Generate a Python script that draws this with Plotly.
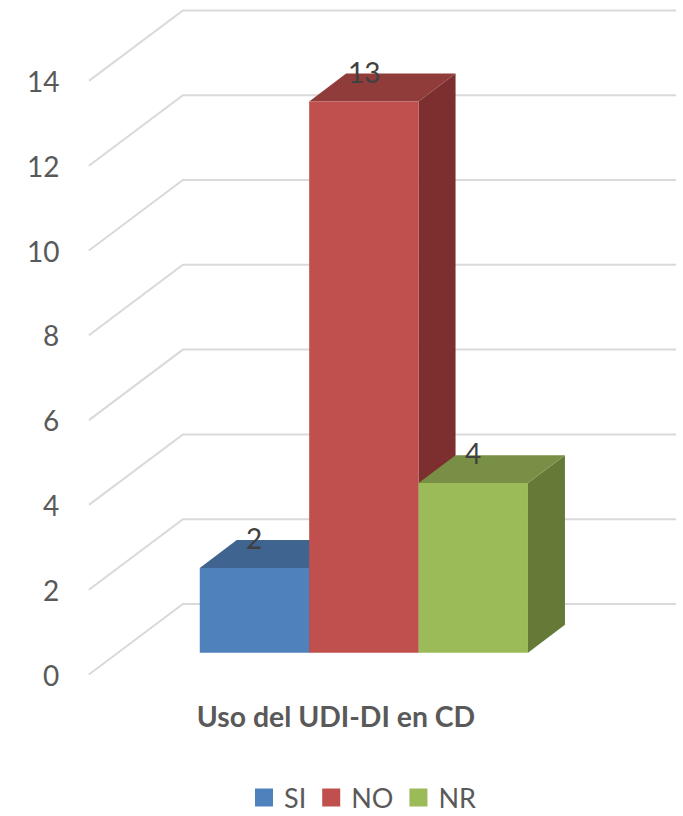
import plotly.graph_objects as go

categories = ["SI", "NO", "NR"]
values = [2, 13, 4]
axis_ticks = [0, 2, 4, 6, 8, 10, 12, 14]
front_colors = ["#4F81BD", "#C0504D", "#9BBB59"]
top_colors = ["#3E648F", "#8F3C3B", "#788F45"]
side_colors = ["#355678", "#7C2F2E", "#667A38"]

chart_title = "Uso del UDI-DI en CD"
FONT = "Lato, Carlito, sans-serif"

# Oblique projection, expressed in axis units
BAR_DEPTH_X, BAR_DEPTH_Y = 0.338, 0.66
WALL_FRONT_X, WALL_BACK_X, WALL_RIGHT_X = -1.513, -0.654, 3.853
WALL_FRONT_DY, WALL_BACK_DY = -0.514, 1.149
X_RANGE = [-2.326, 3.917]
Y_RANGE = [-3.851, 15.394]

fig = go.Figure()

# Gridlines bent along the side wall and the back wall
grid_x, grid_y = [], []
for t in axis_ticks:
    grid_x += [WALL_FRONT_X, WALL_BACK_X, WALL_RIGHT_X, None]
    grid_y += [t + WALL_FRONT_DY, t + WALL_BACK_DY, t + WALL_BACK_DY, None]
fig.add_trace(go.Scatter(x=grid_x, y=grid_y, mode="lines",
                         line=dict(color="#D9D9D9", width=2),
                         showlegend=False, hoverinfo="skip"))

# Depth faces, left to right so each column hides the one behind it
for i, v in enumerate(values):
    l, r = i - 0.5, i + 0.5
    fig.add_trace(go.Scatter(
        x=[r, r + BAR_DEPTH_X, r + BAR_DEPTH_X, r, r],
        y=[0, BAR_DEPTH_Y, v + BAR_DEPTH_Y, v, 0],
        mode="lines", fill="toself", fillcolor=side_colors[i],
        line=dict(width=0), showlegend=False, hoverinfo="skip"))
    fig.add_trace(go.Scatter(
        x=[l, l + BAR_DEPTH_X, r + BAR_DEPTH_X, r, l],
        y=[v, v + BAR_DEPTH_Y, v + BAR_DEPTH_Y, v, v],
        mode="lines", fill="toself", fillcolor=top_colors[i],
        line=dict(width=0), showlegend=False, hoverinfo="skip"))

# Front faces sit on an overlaid subplot, above all depth faces
fig.add_trace(go.Bar(x=list(range(len(values))), y=values, width=1,
                     marker=dict(color=front_colors, line=dict(width=0)),
                     xaxis="x2", yaxis="y2", showlegend=False,
                     customdata=categories,
                     hovertemplate="%{customdata}: %{y}<extra></extra>"))

# Legend entries
for name, color in zip(categories, front_colors):
    fig.add_trace(go.Scatter(x=[None], y=[None], mode="markers", name=name,
                             marker=dict(symbol="square", size=16, color=color,
                                         line=dict(color=color, width=2))))

annotations = []
for t in axis_ticks:
    annotations.append(dict(x=WALL_FRONT_X, y=t + WALL_FRONT_DY, text=str(t),
                            xref="x", yref="y", xanchor="right", yanchor="middle",
                            xshift=-28, showarrow=False,
                            font=dict(family=FONT, size=28, color="#595959")))
for i, v in enumerate(values):
    annotations.append(dict(x=i, y=v, text=str(v), xref="x", yref="y",
                            xanchor="center", yanchor="middle", yshift=30,
                            showarrow=False,
                            font=dict(family=FONT, size=28, color="#404040")))

axis_common = dict(visible=False, fixedrange=True)
fig.update_layout(
    width=683, height=816,
    margin=dict(l=0, r=0, t=0, b=0, autoexpand=False),
    paper_bgcolor="white", plot_bgcolor="white",
    title=dict(text=f"<b>{chart_title}</b>", x=336 / 683, y=1 - 717 / 816,
               xanchor="center", yanchor="middle",
               font=dict(family=FONT, size=28.4, color="#595959")),
    xaxis=dict(range=X_RANGE, **axis_common),
    yaxis=dict(range=Y_RANGE, **axis_common),
    xaxis2=dict(range=X_RANGE, overlaying="x", **axis_common),
    yaxis2=dict(range=Y_RANGE, overlaying="y", **axis_common),
    legend=dict(orientation="h", x=363 / 683, y=1 - 798 / 816,
                xanchor="center", yanchor="middle",
                font=dict(family=FONT, size=27, color="#595959"),
                itemclick=False, itemdoubleclick=False),
    annotations=annotations,
)

fig.write_html("out.html")
